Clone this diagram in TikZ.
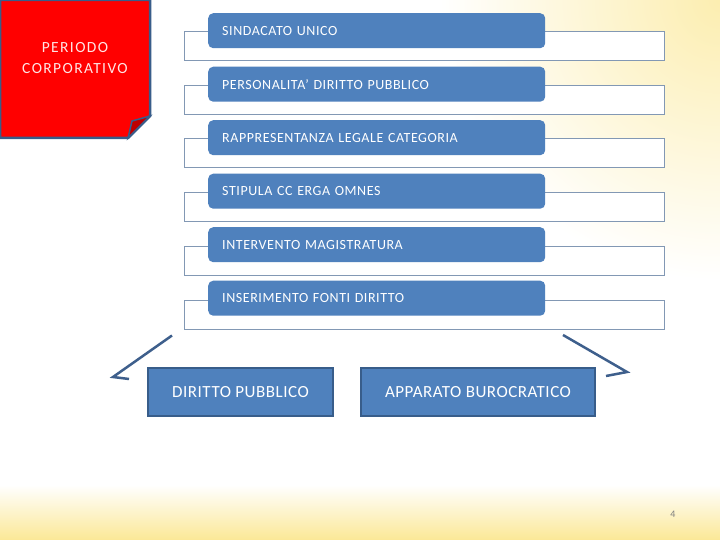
\documentclass[tikz,border=0pt]{standalone}
\usepackage{fontspec}
\setmainfont{Carlito}
\begin{document}
\begin{tikzpicture}[x=1pt,y=-1pt,
  outlinebox/.style={draw=outlinecol, line width=1pt, fill=white, minimum width=480pt, minimum height=29pt, anchor=north west, inner sep=0pt},
  bluebox/.style={fill=boxblue, rounded corners=5pt, minimum height=35pt, inner xsep=14pt, inner ysep=0pt, align=left, anchor=north west, text=white, font=\fontsize{14}{15}\selectfont\addfontfeatures{LetterSpace=4}},
  bigbox/.style={fill=boxblue, draw=boxedge, line width=2pt, minimum height=48pt, anchor=north west, inner sep=0pt, text=white, font=\fontsize{17}{19}\selectfont\addfontfeatures{LetterSpace=3}},
  arrowline/.style={draw=arrowcol, line width=2.5pt, line join=miter}
]
\definecolor{boxblue}{RGB}{79,129,189}
\definecolor{boxedge}{RGB}{56,93,138}
\definecolor{outlinecol}{RGB}{130,152,180}
\definecolor{arrowcol}{RGB}{62,95,140}
\definecolor{paleyellow}{RGB}{251,232,150}
\definecolor{redfold}{RGB}{190,0,0}
\useasboundingbox (0,0) rectangle (720,540);
\fill[white] (0,0) rectangle (720,540);
\begin{scope}
\clip (0,0) rectangle (720,540);
\shade[inner color=paleyellow!75, outer color=white] (720,0) circle (280);
\shade[top color=white, bottom color=paleyellow] (0,485) rectangle (720,540);
\end{scope}

% red sticky note
\filldraw[fill=red, draw=boxedge, line width=2.5pt] (0,0) -- (150,0) -- (150,116) -- (128,138) -- (0,138) -- cycle;
\filldraw[fill=redfold, draw=boxedge, line width=1.5pt] (150,116) -- (132,121) -- (128,138) -- cycle;
\node[text=white!90!red, align=center, font=\fontsize{15.5}{21}\selectfont\addfontfeatures{LetterSpace=9}] (red) at (75,58) {PERIODO\\CORPORATIVO};

% list rows
\foreach \i/\t in {1/SINDACATO UNICO, 2/PERSONALITA’ DIRITTO PUBBLICO, 3/RAPPRESENTANZA LEGALE CATEGORIA, 4/STIPULA CC ERGA OMNES, 5/INTERVENTO MAGISTRATURA, 6/INSERIMENTO FONTI DIRITTO}{
  \node[outlinebox] (o\i) at (184,{31+53.7*(\i-1)}) {};
  \node[bluebox, text width=309pt] (b\i) at (208,{13+53.5*(\i-1)}) {\t};
}

% bottom boxes
\node[bigbox, minimum width=185pt] (dp) at (147,367) {DIRITTO PUBBLICO};
\node[bigbox, minimum width=234pt] (ab) at (360,367) {APPARATO BUROCRATICO};

% arrows
\coordinate (ls) at ([xshift=-12pt,yshift=-6pt]o6.south west);
\coordinate (lt) at (113,377);
\coordinate (lb) at (129,379);
\coordinate (rs) at (563,335);
\coordinate (rt) at (627,372);
\coordinate (rb) at (606,376);
\draw[arrowline] (ls) -- (lt) -- (lb);
\draw[arrowline] (rs) -- (rt) -- (rb);

% page number
\node[text=gray, font=\fontsize{10}{12}\selectfont] (pn) at (673,514) {4};
\end{tikzpicture}
\end{document}
